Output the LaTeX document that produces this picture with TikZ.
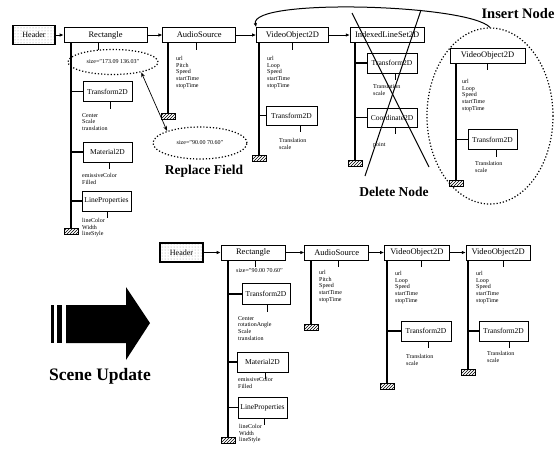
\documentclass[tikz,border=0pt]{standalone}
\usepackage{fontspec}
\setmainfont{Liberation Serif}
\usepackage{tikz}
\usetikzlibrary{positioning, arrows, arrows.meta, shapes.geometric, patterns}

\begin{document}
\begin{tikzpicture}[x=1pt, y=-1pt, node distance=15pt]
    % styles
    \tikzstyle{hdr} = [rectangle, draw=black, line width=1.4pt, pattern=dots, pattern color=gray!80, minimum width=42pt, minimum height=19pt, inner sep=1pt, font=\fontsize{8}{9}\selectfont]
    \tikzstyle{obj} = [rectangle, draw=black, line width=0.7pt, fill=white, minimum height=15pt, inner sep=1pt, font=\fontsize{8.5}{9}\selectfont]
    \tikzstyle{sub} = [rectangle, draw=black, line width=0.7pt, fill=white, minimum width=49pt, minimum height=20pt, inner sep=1pt, font=\fontsize{7.5}{8}\selectfont]
    \tikzstyle{fields} = [anchor=north west, align=left, inner sep=0pt, font=\fontsize{6}{6.8}\selectfont]
    \tikzstyle{gnd} = [rectangle, draw=black, line width=0.5pt, pattern=north east lines, minimum width=14pt, minimum height=6pt, inner sep=0pt]
    \tikzstyle{zone} = [ellipse, draw=black, dotted, line width=1.2pt, inner sep=0pt, font=\fontsize{6}{7}\selectfont]
    \tikzstyle{arrow} = [line width=0.8pt, -{Latex[length=4pt, width=3.5pt]}]
    \tikzstyle{spine} = [line width=1.2pt]
    \tikzstyle{tick} = [line width=1pt]
    \tikzstyle{caption} = [font=\bfseries\fontsize{13.5}{14}\selectfont]

    \useasboundingbox (0,0) rectangle (557,448);

    % old scene
    \node (hdr1) [hdr] at (34,35) {Header};
    \node (rect1) [obj, minimum width=83pt, right=8pt of hdr1] {Rectangle};
    \node (audio1) [obj, minimum width=73pt, right=15pt of rect1] {AudioSource};
    \node (video1) [obj, minimum width=72pt, right=20pt of audio1] {VideoObject2D};
    \node (ils) [obj, minimum width=74pt, right=21pt of video1] {IndexedLineSet2D};

    \node (oldsize) [zone, minimum width=90pt, minimum height=25pt] at (113,62) {size="173.09 136.03"};
    \node (tr1) [sub] at (107.5,91.5) {Transform2D};
    \node (tr1f) [fields] at (82,113) {Center\\Scale\\translation};
    \node (mat1) [sub] at (107.5,152) {Material2D};
    \node (mat1f) [fields] at (82,173) {emissiveColor\\Filled};
    \node (lp1) [sub] at (106.5,201) {LineProperties};
    \node (lp1f) [fields] at (82,218) {lineColor\\Width\\lineStyle};
    \node (gnd1) [gnd] at (71,231) {};

    \node (audio1f) [fields] at (176,56) {url\\Pitch\\Speed\\startTime\\stopTime};
    \node (gnd2) [gnd] at (168,116) {};

    \node (video1f) [fields] at (267,56) {url\\Loop\\Speed\\startTime\\stopTime};
    \node (tr2) [sub, minimum width=51pt, minimum height=19pt] at (291.5,115.5) {Transform2D};
    \node (tr2f) [fields] at (279,138) {Translation\\scale};
    \node (gnd3) [gnd] at (259,158) {};

    \node (tr3) [sub, minimum width=50pt] at (392,63) {Transform2D};
    \node (tr3f) [fields] at (373,84) {Translation\\scale};
    \node (coord) [sub, minimum width=50pt, minimum height=19pt] at (392,117.5) {Coordinate2D};
    \node (coordf) [fields] at (373,142) {point};
    \node (gnd4) [gnd] at (355,163) {};

    % replace field
    \node (newsize) [zone, minimum width=94pt, minimum height=32pt] at (200,143) {size="90.00 70.60"};
    \draw [line width=0.7pt, {Stealth[length=5pt]}-{Stealth[length=5pt]}] (oldsize.-20) -- (newsize.160);
    \node (replace) [caption] at (204,171) {Replace Field};

    % delete node
    \draw [line width=1pt] (352,13) -- (429,167);
    \draw [line width=1pt] (421,10) -- (365,176);
    \node (delete) [caption] at (394,192) {Delete Node};

    % insert node
    \node (insertzone) [zone, minimum width=126pt, minimum height=176pt] at (490,116) {};
    \node (video2) [obj, minimum width=75pt] at (487.5,55.5) {VideoObject2D};
    \node (video2f) [fields] at (462,79) {url\\Loop\\Speed\\startTime\\stopTime};
    \node (tr4) [sub] at (492.5,139.5) {Transform2D};
    \node (tr4f) [fields] at (475,161) {Translation\\scale};
    \node (gnd5) [gnd] at (456,183) {};
    \node (insert) [caption, font=\bfseries\fontsize{14.5}{15}\selectfont] at (518,14) {Insert Node};
    \draw [arrow, line width=1pt] (insertzone.north) .. controls (468,4) and (250,-2) .. (video1.north west);

    % new scene
    \node (hdr2) [hdr, minimum width=43pt] at (181.5,252.5) {Header};
    \node (rect2) [obj, minimum width=64pt, right=17pt of hdr2] {Rectangle};
    \node (audio2) [obj, minimum width=64pt, right=19pt of rect2] {AudioSource};
    \node (video3) [obj, minimum width=65pt, right=15pt of audio2] {VideoObject2D};
    \node (video4) [obj, minimum width=64pt, right=16pt of video3] {VideoObject2D};

    \node (rect2f) [fields] at (236,268) {size="90.00 70.60"};
    \node (tr5) [sub, minimum width=48pt, minimum height=21pt] at (266,294) {Transform2D};
    \node (tr5f) [fields] at (238,316) {Center\\rotationAngle\\Scale\\translation};
    \node (mat2) [sub, minimum width=51pt] at (262.5,362) {Material2D};
    \node (mat2f) [fields] at (238,377) {emissiveColor\\Filled};
    \node (lp2) [sub, minimum height=21pt] at (262.5,407.5) {LineProperties};
    \node (lp2f) [fields] at (239,424) {lineColor\\Width\\lineStyle};
    \node (gnd6) [gnd] at (228,440) {};

    \node (audio2f) [fields] at (319,270) {url\\Pitch\\Speed\\startTime\\stopTime};
    \node (gnd7) [gnd] at (311,327) {};

    \node (video3f) [fields] at (395,271) {url\\Loop\\Speed\\startTime\\stopTime};
    \node (tr6) [sub, minimum width=50pt] at (426,331) {Transform2D};
    \node (tr6f) [fields] at (406,354) {Translation\\scale};
    \node (gnd8) [gnd] at (387,386) {};

    \node (video4f) [fields] at (476,271) {url\\Loop\\Speed\\startTime\\stopTime};
    \node (tr7) [sub] at (503.5,331) {Transform2D};
    \node (tr7f) [fields] at (487,351) {Translation\\scale};
    \node (gnd9) [gnd] at (468,372) {};

    % flow of information
    \foreach \a/\b in {hdr1/rect1, rect1/audio1, audio1/video1, video1/ils, hdr2/rect2, rect2/audio2, audio2/video3, video3/video4}
        \draw [arrow] (\a) -- (\b);

    % children
    \foreach \p/\g in {rect1/gnd1, audio1/gnd2, video1/gnd3, ils/gnd4, video2/gnd5, rect2/gnd6, audio2/gnd7, video3/gnd8, video4/gnd9}
        \draw [spine] (\p.south -| \g) -- (\g.north);
    \foreach \n/\g in {tr1/gnd1, mat1/gnd1, lp1/gnd1, tr2/gnd3, tr3/gnd4, coord/gnd4, tr4/gnd5, tr5/gnd6, mat2/gnd6, lp2/gnd6, tr6/gnd8, tr7/gnd9}
        \draw [spine] (\n.west -| \g) -- (\n.west);

    % fields
    \foreach \n/\dx in {rect1/-7.5, audio1/-2.5, video1/0, tr1/2.5, mat1/1.5, lp1/0.5, tr2/8.5, tr3/3, coord/3, video2/0, tr4/3.5, rect2/2, tr5/1, mat2/2.5, lp2/1.5, audio2/2, video3/4.5, tr6/2, video4/5, tr7/5.5}
        \draw [tick] ([xshift=\dx pt]\n.south) -- ++(0,7);

    % scene update
    \fill (51,305) rectangle (54,343);
    \fill (57,305) rectangle (62,343);
    \fill (66,305) -- (126,305) -- (126,287) -- (150,323) -- (126,360) -- (126,343) -- (66,343) -- cycle;
    \node (update) [caption, font=\bfseries\fontsize{17.5}{18}\selectfont] at (100,376) {Scene Update};
\end{tikzpicture}
\end{document}
